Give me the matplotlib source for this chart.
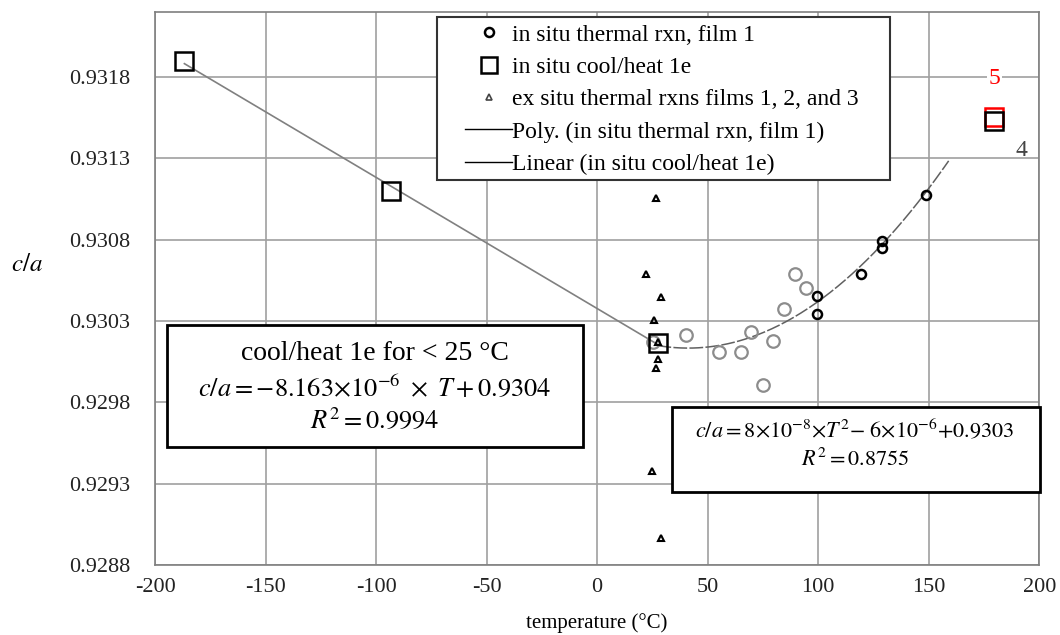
import matplotlib
matplotlib.use("Agg")
import matplotlib.pyplot as plt
import numpy as np
from matplotlib.lines import Line2D
from matplotlib.patches import Rectangle

plt.rcParams['font.family'] = ['Liberation Serif', 'DejaVu Serif']
plt.rcParams['mathtext.fontset'] = 'stix'

# in situ cool/heat 1e (squares)
sq_T = [-186.7, -93.1, 27.3, 179.7]
sq_ca = [0.931895, 0.931101, 0.930167, 0.931529]
# film 5 square (red)
red_T = [179.7]
red_ca = [0.931556]

# in situ thermal rxn, film 1 (black circles)
blk_T = [99.4, 99.4, 119.3, 128.9, 128.9, 148.8]
blk_ca = [0.930343, 0.930456, 0.930591, 0.930751, 0.930788, 0.931071]
# lighter circles
gry_T = [25.3, 40.1, 55.2, 65.0, 69.8, 74.8, 79.7, 84.6, 89.6, 94.4]
gry_ca = [0.930173, 0.930214, 0.930108, 0.930108, 0.930231, 0.929906,
          0.930179, 0.930372, 0.930589, 0.930505]

# ex situ thermal rxns films 1, 2, and 3 (triangles)
tri_T = [26.8, 22.0, 28.8, 25.7, 27.3, 27.7, 26.5, 25.0, 29.1]
tri_ca = [0.931055, 0.930587, 0.930449, 0.930306, 0.930169, 0.930064,
          0.930013, 0.929379, 0.928964]

xticks = [-200, -150, -100, -50, 0, 50, 100, 150, 200]
yticks = [0.9288, 0.9293, 0.9298, 0.9303, 0.9308, 0.9313, 0.9318]

fig = plt.figure(figsize=(10.6, 6.35), dpi=100)
W, H = 1060.0, 635.0
ax = fig.add_axes([155 / W, 1 - 565 / H, (1039.3 - 155) / W, (565 - 11.7) / H])

ax.set_xlim(-200, 200)
ax.set_ylim(0.9288, 0.9322)
ax.set_xticks(xticks)
ax.set_yticks(yticks)
ax.set_yticklabels(['%.4f' % v for v in yticks])
ax.set_xticklabels([str(v) for v in xticks])
ax.tick_params(length=0, labelsize=16, colors='#222222')
ax.tick_params(axis='x', pad=9)
ax.tick_params(axis='y', pad=18)
ax.grid(True, color='#a0a0a0', lw=1.2)
ax.set_axisbelow(True)
for s in ax.spines.values():
    s.set_color('#7f7f7f')
    s.set_linewidth(1.2)

# trendlines
lin = np.polyfit(sq_T[:3], sq_ca[:3], 1)
tl = np.linspace(sq_T[0], sq_T[2], 50)
ax.plot(tl, np.polyval(lin, tl), color='#808080', lw=1.2, zorder=2)

poly = np.polyfit(blk_T + gry_T, blk_ca + gry_ca, 2)
tp = np.linspace(27.3, 159, 200)
ax.plot(tp, np.polyval(poly, tp), color='#606060', lw=1.1, dashes=(9, 1.5), zorder=2)

ax.plot(gry_T, gry_ca, 'o', ms=9, mfc='none', mec='#8c8c8c', mew=1.6, zorder=3)
ax.plot(blk_T, blk_ca, 'o', ms=6.5, mfc='none', mec='black', mew=1.8, zorder=4)
ax.plot(tri_T, tri_ca, '^', ms=5, mfc='none', mec='black', mew=1.5, zorder=4)
ax.plot(red_T, red_ca, 's', ms=13, mfc='none', mec='red', mew=1.8, zorder=4)
ax.plot(sq_T, sq_ca, 's', ms=13, mfc='none', mec='black', mew=1.8, zorder=5)

ax.text(red_T[0], 0.93179, '5', color='red', fontsize=17, ha='center', va='center',
        bbox=dict(fc='white', ec='none', pad=1), zorder=6)
ax.text(sq_T[3] + 12, 0.93135, '4', color='#444444', fontsize=17, ha='center', va='center', zorder=6)

ax.set_xlabel('temperature (°C)', fontsize=15, labelpad=12)
fig.text(27 / W, 1 - 265 / H, '$c/a$', fontsize=18, ha='center', va='center')

# legend: frame drawn separately, content placed inside
fig.patches.append(Rectangle((437.3 / W, 1 - 180 / H), (890 - 437.3) / W, (180 - 17.3) / H,
                             transform=fig.transFigure, fc='white', ec='#333333',
                             lw=1.5, zorder=7))
handles = [
    Line2D([], [], ls='none', marker='o', ms=6.5, mfc='none', mec='black', mew=1.8),
    Line2D([], [], ls='none', marker='s', ms=11, mfc='none', mec='black', mew=1.8),
    Line2D([], [], ls='none', marker='^', ms=5, mfc='none', mec='#444444', mew=1.2),
    Line2D([], [], color='black', lw=1.0),
    Line2D([], [], color='black', lw=1.0),
]
labels = ['in situ thermal rxn, film 1', 'in situ cool/heat 1e',
          'ex situ thermal rxns films 1, 2, and 3',
          'Poly. (in situ thermal rxn, film 1)', 'Linear (in situ cool/heat 1e)']
leg = fig.legend(handles, labels, loc='upper left',
                 bbox_to_anchor=(465 / W, 1 - 24 / H), borderaxespad=0,
                 fontsize=17, frameon=False, handlelength=2.0,
                 handletextpad=0.0, labelspacing=0.46, borderpad=0)
leg.set_zorder(10)

# equation boxes
def box(x0, y0, x1, y1):
    fig.patches.append(Rectangle((x0 / W, 1 - y1 / H), (x1 - x0) / W, (y1 - y0) / H,
                                 transform=fig.transFigure, fc='white', ec='black',
                                 lw=2, zorder=8))

box(167.3, 325, 583.3, 447.3)
fig.text(375 / W, 1 - 353 / H, 'cool/heat 1e for < 25 °C', fontsize=20,
         ha='center', va='center', zorder=9)
fig.text(375 / W, 1 - 388 / H, r'$c/a = -8.163{\times}10^{-6}\ \times\ T + 0.9304$',
         fontsize=19, ha='center', va='center', zorder=9)
fig.text(375 / W, 1 - 420 / H, r'$R^2 = 0.9994$', fontsize=19,
         ha='center', va='center', zorder=9)

box(672.3, 407.3, 1040, 491.7)
fig.text(855 / W, 1 - 430.7 / H,
         r'$c/a = 8{\times}10^{-8}{\times}T^2{-}\ 6{\times}10^{-6}{+}0.9303$',
         fontsize=16, ha='center', va='center', zorder=9)
fig.text(855 / W, 1 - 460 / H, r'$R^2 = 0.8755$', fontsize=16,
         ha='center', va='center', zorder=9)

fig.savefig('out.png', dpi=100)
